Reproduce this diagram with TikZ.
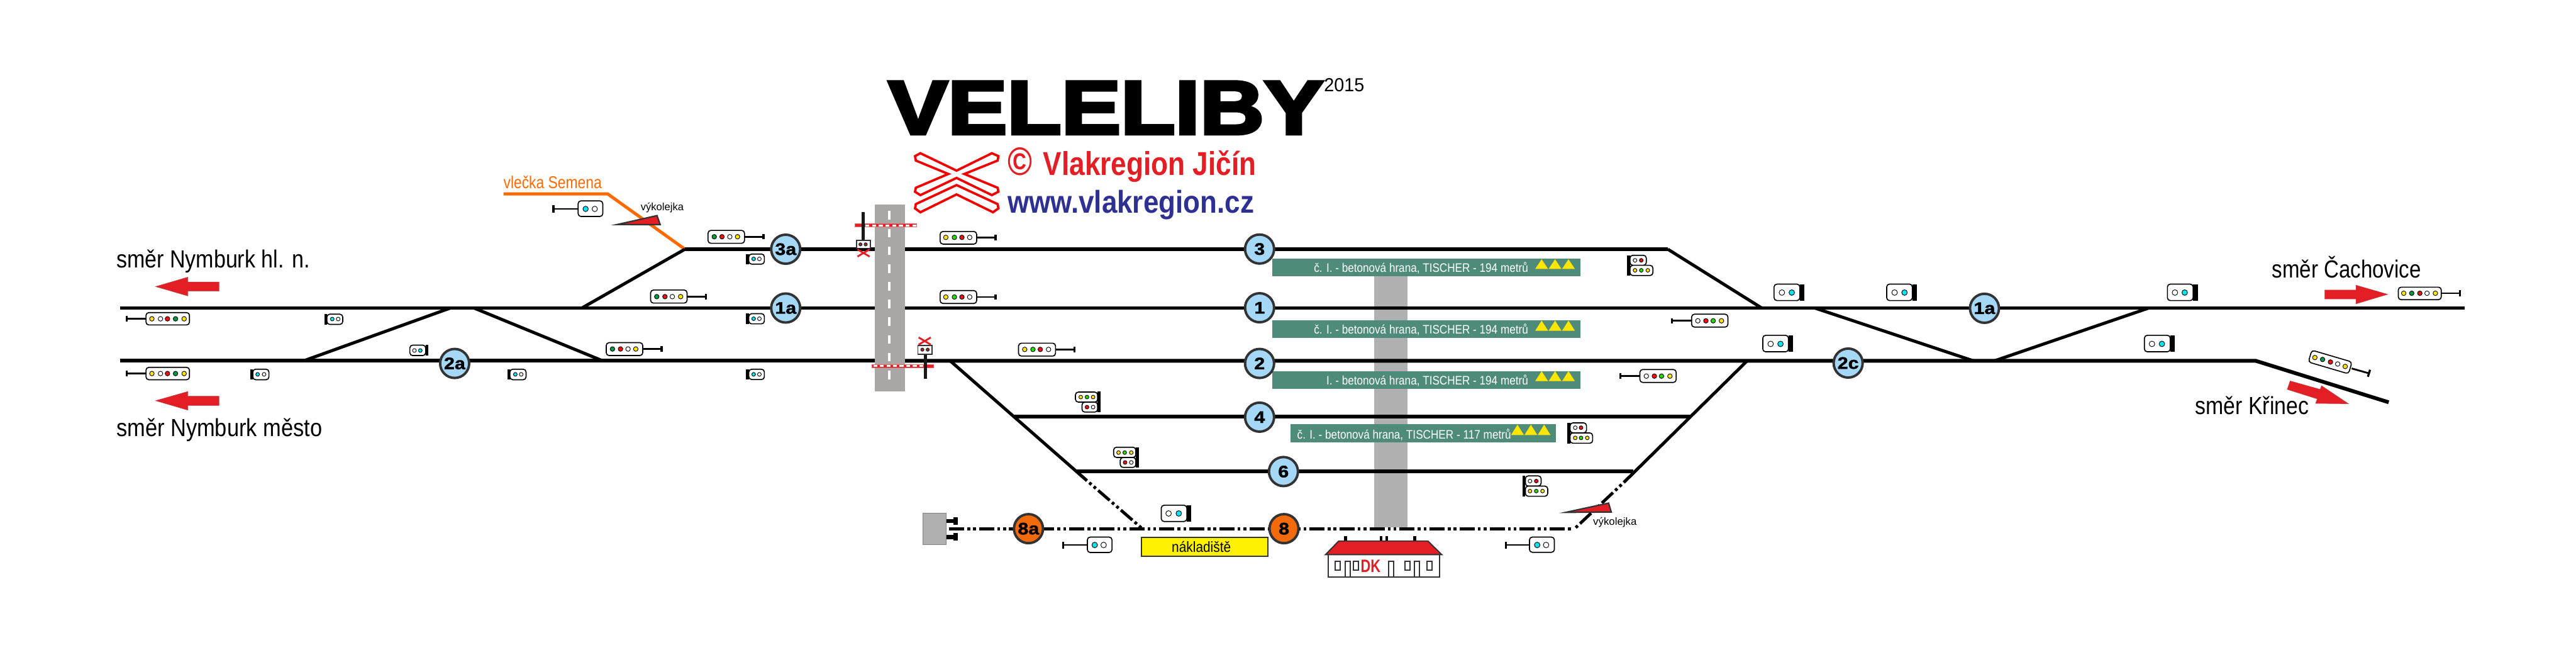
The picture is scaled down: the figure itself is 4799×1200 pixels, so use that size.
\documentclass[tikz,border=0pt]{standalone}
\usepackage{fontspec}
\usepackage{graphicx}
\setmainfont{Liberation Sans}
\newfontfamily\titlef[BoldFeatures={FakeBold=4}]{Liberation Sans}
\newfontfamily\bubf[BoldFeatures={FakeBold=1.5,FakeStretch=1.15}]{Liberation Sans}
\definecolor{Cred}{HTML}{E31E24}
\definecolor{Cblue}{HTML}{A5D8F6}
\definecolor{Cedge}{HTML}{333333}
\definecolor{Corange}{HTML}{F36A0B}
\definecolor{Cline}{HTML}{FF6A00}
\definecolor{Cgreen}{HTML}{4E8B7B}
\definecolor{Ctri}{HTML}{FFE600}
\definecolor{Croad}{HTML}{A9A6A6}
\definecolor{Cbuild}{HTML}{B0B0B0}
\definecolor{Cnavy}{HTML}{2E3192}
\definecolor{Cx}{HTML}{F00000}
\definecolor{Ly}{HTML}{FFE600}
\definecolor{Lr}{HTML}{EE1111}
\definecolor{Lg}{HTML}{009944}
\definecolor{Lh}{HTML}{22DD00}
\definecolor{Lc}{HTML}{00E5F5}
\tikzset{
  trackline/.style={line width=1.99pt,line join=miter},
  diagline/.style={line width=1.65pt},
  dashline/.style={line width=1.6pt,dash pattern=on 8.05pt off 1.62pt on 1.5pt off 1.62pt on 1.5pt off 1.62pt},
  diagdash/.style={line width=1.6pt,dash pattern=on 1.5pt off 1.62pt on 1.5pt off 1.62pt on 8.05pt off 1.62pt,dash phase=14.3pt},
  bubble/.style={circle,draw=Cedge,line width=1.3pt,inner sep=0pt,minimum size=0.54cm,font=\fontsize{8.8pt}{8.8pt}\selectfont\bubf\bfseries},
  bublue/.style={bubble,fill=Cblue},
  buorange/.style={bubble,fill=Corange},
  txt/.style={anchor=base west,inner sep=0pt,outer sep=0pt},
  sbody/.style={draw=black,fill=white,line width=0.55pt,rounded corners=1.5pt},
  mastline/.style={line width=0.95pt,black},
  barline/.style={line width=1.1pt,black},
  lampring/.style={draw=black,line width=0.3pt},
  redarrow/.style={fill=Cred,draw=Cred!60!gray,line width=0.2pt},
  housepen/.style={draw=Cedge,line width=0.65pt},
  crossx/.style={draw=Cred,line width=0.95pt},
  barrier/.style={fill=Cred,draw=Cred!70,line width=0.2pt},
  logoline/.style={draw=Cx,fill=white,line width=1.25pt,line join=miter}
}
\newcommand\fitx[3]{\resizebox{\fpeval{#1/100}cm}{\height}{\fontsize{#2pt}{#2pt}\selectfont #3}}
\newcommand\Sb[4]{\draw[sbody] (#1,#2) rectangle (#3,#4);}
\newcommand\Sk[4]{\fill[black] (#1,#2) rectangle (#3,#4);}
\newcommand\Sl[4]{\filldraw[lampring,fill=#4] (#2,#3) circle[radius=#1];}
\newcommand\Sm[4]{\draw[mastline] (#1,#3) -- (#2,#3);\draw[barline] (#2,\fpeval{#3-#4}) -- (#2,\fpeval{#3+#4});}
\newcommand\Gb[7]{\fill[Cgreen] (#1,#2) rectangle (#3,#4);
  \foreach \tx in {#6}{\fill[Ctri] (\tx,#7) -- ++(24,0) -- ++(-12,\fpeval{#5-#7}) -- cycle;}}
\begin{document}
\begin{tikzpicture}[x=0.01cm,y=-0.01cm]
\useasboundingbox (0,0) rectangle (4799,1200);
\fill[white] (0,0) rectangle (4799,1200);
% building shadow and road
\fill[Cbuild] (2560,505) rectangle (2622,982);
\fill[Croad] (1630,381) rectangle (1686,729);
\foreach \dy in {393,426,459,492,525,558,591,624,657,690}{\fill[white] (1654,\dy) rectangle (1659.5,\dy+16);}
% junction points
\coordinate (t1W) at (224,573.5);
\coordinate (r1W) at (1630,573.5);
\coordinate (r1E) at (1686,573.5);
\coordinate (t1E) at (4592,573.5);
\coordinate (t2W) at (224,671.7);
\coordinate (r2W) at (1630,671.7);
\coordinate (r2E) at (1686,671.7);
\coordinate (t2K) at (4202,671.7);
\coordinate (t2E) at (4450,749);
\coordinate (j3W) at (1276,464);
\coordinate (r3W) at (1630,464);
\coordinate (r3E) at (1686,464);
\coordinate (j3E) at (3107,464);
\coordinate (j3S) at (3282,573.5);
\coordinate (j4W) at (1889.5,776);
\coordinate (j4E) at (3148,776);
\coordinate (j6W) at (2006,878);
\coordinate (j6E) at (3043,878);
\coordinate (jLT) at (1770,671.7);
\coordinate (jLM) at (2025,895);
\coordinate (jLB) at (2128,984.3);
\coordinate (jRT) at (3255,671.7);
\coordinate (jRM) at (3025,898.3);
\coordinate (jRB) at (2932.7,985);
\coordinate (t8W) at (1763,984.3);
\coordinate (t8E) at (2927,984.3);
\coordinate (x1a) at (566,671.7);
\coordinate (x1b) at (839,573.5);
\coordinate (x2a) at (883,573.5);
\coordinate (x2b) at (1122.5,671.7);
\coordinate (x3a) at (1084,573.5);
\coordinate (x4a) at (3381,573.5);
\coordinate (x4b) at (3676,671.7);
\coordinate (x5a) at (4003,573.5);
\coordinate (x5b) at (3716,671.7);
\coordinate (vsA) at (938,361);
\coordinate (vsB) at (1132,361);
% orange siding
\draw[line width=1.65pt,Cline,line join=miter] (vsA) -- (vsB) -- (j3W);
% tracks
\draw[trackline] (t1W) -- (r1W);
\draw[trackline] (r1E) -- (t1E);
\draw[trackline] (t2W) -- (r2W);
\draw[trackline] (r2E) -- (t2K) -- (t2E);
\draw[trackline] (j3W) -- (r3W);
\draw[trackline] (r3E) -- (j3E);
\draw[diagline] (j3E) -- (j3S);
\draw[trackline] (j4W) -- (j4E);
\draw[trackline] (j6W) -- (j6E);
\draw[diagline] (jLT) -- (jLM);
\draw[diagdash] (jLM) -- (jLB);
\draw[diagline] (jRT) -- (jRM);
\draw[diagdash] (jRM) -- (jRB);
\draw[dashline,dash phase=14.5pt] (t8W) -- (t8E);
\draw[diagline] (x1a) -- (x1b);
\draw[diagline] (x2a) -- (x2b);
\draw[diagline] (x3a) -- (j3W);
\draw[diagline] (x4a) -- (x4b);
\draw[diagline] (x5a) -- (x5b);
% platforms
\Gb{2370}{482}{2944}{514.3}{482.7}{2860,2885,2910}{500.7}
\Gb{2370}{596.7}{2944}{629.7}{597}{2860,2885,2910}{615.7}
\Gb{2370}{690.7}{2944}{723.7}{691}{2860,2885,2910}{709.7}
\Gb{2404.6}{790}{2898}{824}{790.7}{2815,2840,2864.6}{810}
\node[txt,text=white] (pl3) at (2448,507) {\fitx{398.6}{6.5}{č. I. - betonová hrana, TISCHER - 194 metrů}};
\node[txt,text=white] (pl1) at (2448,621.7) {\fitx{398.6}{6.5}{č. I. - betonová hrana, TISCHER - 194 metrů}};
\node[txt,text=white] (pl2) at (2471,716) {\fitx{375.6}{6.5}{I. - betonová hrana, TISCHER - 194 metrů}};
\node[txt,text=white] (pl4) at (2416.7,816.7) {\fitx{398}{6.5}{č. I. - betonová hrana, TISCHER - 117 metrů}};
% track number bubbles
\node[bublue] (b2a) at (847,676.7) {2a};
\node[bublue] (b3a) at (1463.7,464) {3a};
\node[bublue] (b1a) at (1463.7,573.5) {1a};
\node[bublue] (b3) at (2346.5,463.7) {3};
\node[bublue] (b1) at (2346.5,573) {1};
\node[bublue] (b2) at (2346.5,676.7) {2};
\node[bublue] (b4) at (2346.5,776.7) {4};
\node[bublue] (b6) at (2391,878) {6};
\node[bublue] (b1c) at (3697,574) {1a};
\node[bublue] (b2c) at (3443,676) {2c};
\node[buorange] (b8a) at (1916,984.3) {8a};
\node[buorange] (b8) at (2392,984.3) {8};
% direction labels and arrows
\node[txt] (dNh) at (217,499) {\fitx{360}{13.1}{směr Nymburk hl. n.}};
\node[txt] (dNm) at (217,813) {\fitx{383}{13.1}{směr Nymburk město}};
\node[txt] (dCa) at (4233,516.7) {\fitx{277}{13.1}{směr Čachovice}};
\node[txt] (dKr) at (4090,771.7) {\fitx{211}{13.1}{směr Křinec}};
\draw[redarrow] (290,533.6) -- (350,516) -- (350,525) -- (408,525) -- (408,542) -- (350,542) -- (350,551) -- cycle;
\draw[redarrow] (290,746) -- (350,729) -- (350,737.6) -- (408,737.6) -- (408,755) -- (350,755) -- (350,763.6) -- cycle;
\draw[redarrow] (4448,548) -- (4389,531) -- (4389,540) -- (4331,540) -- (4331,556.7) -- (4389,556.7) -- (4389,565.7) -- cycle;
\draw[redarrow] (4266.5,709.3) -- (4322.3,725) -- (4325,718.3) -- (4375,751.7) -- (4313.8,751) -- (4317,742.7) -- (4261,725) -- cycle;
% title and logo
\node[txt] (title) at (1655,249.5) {\fitx{810}{40.3}{\titlef\bfseries VELELIBY}};
\node[txt] (year) at (2466.7,170) {\fitx{75}{10}{2015}};
\node[txt,text=Cred] (copy) at (1877,326) {\fitx{463}{17.5}{\bfseries{\fontsize{21pt}{21pt}\selectfont ©}\kern 7pt Vlakregion Jičín}};
\node[txt,text=Cnavy] (web) at (1877,397) {\fitx{459}{16.7}{\bfseries www.vlakregion.cz}};
\draw[logoline] (1782,344.6) -- (1858.5,380) -- (1860,388) -- (1850,395.2) -- (1782,362) -- (1714.6,395.2) -- (1704.7,388) -- (1706.2,380) -- cycle;
\draw[logoline] (1714.6,285.3) -- (1782,317.7) -- (1847.8,285.3) -- (1860,290.7) -- (1858.5,299) -- (1796.5,323.9) -- (1858.5,349.6) -- (1860,357) -- (1847.8,363.3) -- (1782,331.3) -- (1714.6,363.3) -- (1704.7,357) -- (1706.2,349.6) -- (1766.7,323.9) -- (1706.2,299) -- (1704.7,290.7) -- cycle;
% siding labels and derailers
\node[txt,text=Cline] (vs) at (938,351) {\fitx{183}{9.1}{vlečka Semena}};
\node[txt] (vk1) at (1193.6,391.5) {\fitx{80}{5.55}{výkolejka}};
\node[txt] (vk2) at (2968,977.3) {\fitx{81}{5.55}{výkolejka}};
\filldraw[fill=Cred,draw=Cedge,line width=0.75pt,line join=miter] (1150,418) -- (1224,401.4) -- (1230,418.4) -- cycle;
\filldraw[fill=Cred,draw=Cedge,line width=0.75pt,line join=miter] (2916.7,954) -- (2996.7,936.7) -- (3001.7,953.3) -- cycle;
% level crossings
\draw[barrier] (1592.7,416.7) rectangle (1707.3,422.3);
\foreach \i in {0,...,7}{\fill[white] (1612+12.5*\i,417.8) rectangle (1619.5+12.5*\i,421.2);}
\fill[black!90] (1605.3,395) rectangle (1611.3,447.3);
\filldraw[fill=white,draw=Cedge,line width=0.6pt] (1596,447.3) rectangle (1621.7,462.3);
\foreach \cx in {1603,1612.7}{\fill[Cedge] (\cx,455) circle[radius=3.7];\fill[Lr] (\cx,455) circle[radius=1.6];}
\draw[crossx] (1597.4,464.3) -- (1620,477.7);\draw[crossx] (1620,464.3) -- (1597.4,477.7);
\draw[barrier] (1624,678.7) rectangle (1739.3,684);
\foreach \i in {0,...,7}{\fill[white] (1627+12.2*\i,679.8) rectangle (1634.5+12.2*\i,682.9);}
\fill[black!90] (1720.7,659) rectangle (1726.7,705);
\filldraw[fill=white,draw=Cedge,line width=0.6pt] (1710,643.3) rectangle (1736,659.3);
\foreach \cx in {1718.3,1728.3}{\fill[Cedge] (\cx,651) circle[radius=3.7];\fill[Lr] (\cx,651) circle[radius=1.6];}
\draw[crossx] (1711.4,628.3) -- (1734,641.7);\draw[crossx] (1734,628.3) -- (1711.4,641.7);
% entry signals
\Sm{272}{236}{593.6}{5.5}\Sb{272}{582}{353}{605}
\Sl{4.3}{283}{593.6}{Ly}\Sl{4.3}{299}{593.6}{white}\Sl{4.3}{312}{593.6}{Lr}\Sl{4.3}{327}{593.6}{Lg}\Sl{4.3}{343}{593.6}{Ly}
\Sm{272}{236}{695.5}{5.5}\Sb{272}{684}{353}{707}
\Sl{4.3}{283}{695.5}{Ly}\Sl{4.3}{299}{695.5}{white}\Sl{4.3}{312}{695.5}{Lr}\Sl{4.3}{327}{695.5}{Lg}\Sl{4.3}{343}{695.5}{Ly}
\Sm{4548}{4582.6}{546}{5.8}\Sb{4467.9}{534.7}{4548}{558}
\Sl{4.3}{4478}{546}{Ly}\Sl{4.3}{4492.9}{546}{Lg}\Sl{4.3}{4508}{546}{Lr}\Sl{4.3}{4521.4}{546}{white}\Sl{4.3}{4537}{546}{Ly}
\draw[mastline] (4381,686) -- (4413,695);
\draw[barline] (4415.3,688.5) -- (4411.3,701.5);
\node[sbody,rotate=-16.4,minimum width=0.78cm,minimum height=0.23cm,inner sep=0pt,outer sep=0pt] (sigKr) at (4341,674) {};
\Sl{4.3}{4312.5}{665.7}{Ly}\Sl{4.3}{4326.8}{669.3}{Lg}\Sl{4.3}{4341.5}{674}{Lr}\Sl{4.3}{4355}{677.7}{white}\Sl{4.3}{4369}{682.3}{Ly}
% four-lamp signals
\Sm{1387}{1422.4}{440.8}{5}\Sb{1319}{429}{1387}{453}
\Sl{4.3}{1330.6}{440.8}{Lg}\Sl{4.3}{1345}{440.8}{Lr}\Sl{4.3}{1359.6}{440.8}{white}\Sl{4.3}{1374}{440.8}{Ly}
\Sm{1280}{1315}{552.3}{5}\Sb{1212}{540}{1280}{564.3}
\Sl{4.3}{1223.5}{552.3}{Lg}\Sl{4.3}{1238.8}{552.3}{Lr}\Sl{4.3}{1252.5}{552.3}{white}\Sl{4.3}{1268}{552.3}{Ly}
\Sm{1197.4}{1232.6}{649.8}{5}\Sb{1129.4}{638}{1197.4}{662}
\Sl{4.3}{1141}{649.8}{Lg}\Sl{4.3}{1156}{649.8}{Lr}\Sl{4.3}{1170}{649.8}{white}\Sl{4.3}{1184.4}{649.8}{Ly}
\Sm{1819.5}{1854.7}{442}{5}\Sb{1751.4}{431}{1819.5}{454.5}
\Sl{4.3}{1762}{442}{Ly}\Sl{4.3}{1778}{442}{Lh}\Sl{4.3}{1792}{442}{Lr}\Sl{4.3}{1806.5}{442}{white}
\Sm{1819.5}{1854.7}{553}{5}\Sb{1751.4}{541}{1819.5}{565}
\Sl{4.3}{1762}{553}{Ly}\Sl{4.3}{1778}{553}{Lh}\Sl{4.3}{1792}{553}{Lr}\Sl{4.3}{1806.5}{553}{white}
\Sm{1966.4}{2001.6}{650.6}{5}\Sb{1897.5}{639}{1966.4}{663}
\Sl{4.3}{1909}{650.6}{Ly}\Sl{4.3}{1924.3}{650.6}{Lh}\Sl{4.3}{1938}{650.6}{Lr}\Sl{4.3}{1953.4}{650.6}{white}
\Sm{3151.4}{3115}{597.3}{5}\Sb{3151.4}{585}{3219}{609}
\Sl{4.3}{3163}{597.3}{white}\Sl{4.3}{3178}{597.3}{Lr}\Sl{4.3}{3191.6}{597.3}{Lh}\Sl{4.3}{3207}{597.3}{Ly}
\Sm{3055}{3018.8}{700.3}{5}\Sb{3055}{688}{3122.7}{712}
\Sl{4.3}{3067}{700.3}{white}\Sl{4.3}{3082}{700.3}{Lr}\Sl{4.3}{3095.3}{700.3}{Lh}\Sl{4.3}{3111}{700.3}{Ly}
% shunting signals, west
\Sm{1078}{1031}{389}{6.5}\Sb{1077}{374}{1123}{403}
\Sl{5}{1091}{389}{Lc}\Sl{5}{1108}{389}{white}
\Sk{604}{585}{609}{604}\Sb{609}{585}{638.5}{604}\Sl{3.5}{619}{594}{Lc}\Sl{3.5}{630}{594}{white}
\Sk{793}{642.6}{798}{662}\Sb{763.5}{642.6}{793}{662}\Sl{3.5}{772}{652.6}{white}\Sl{3.5}{783}{652.6}{Lc}
\Sk{466}{687.4}{471}{707}\Sb{471}{687.4}{501}{707}\Sl{3.5}{480}{697}{Lc}\Sl{3.5}{492}{697}{white}
\Sk{945}{687.4}{950}{707}\Sb{950}{687.4}{980}{707}\Sl{3.5}{960}{697}{Lc}\Sl{3.5}{971}{697}{white}
\Sk{1389.5}{473}{1395}{491.8}\Sb{1395}{473}{1424}{491.8}\Sl{3.5}{1404}{482}{Lc}\Sl{3.5}{1414.7}{482}{white}
\Sk{1389.5}{584}{1395}{603}\Sb{1395}{584}{1424}{603}\Sl{3.5}{1404}{593.4}{Lc}\Sl{3.5}{1414.7}{593.4}{white}
\Sk{1389.5}{687.5}{1395}{706.6}\Sb{1395}{687.5}{1424}{706.6}\Sl{3.5}{1404}{697}{Lc}\Sl{3.5}{1414.7}{697}{white}
% double signals
\Sk{2044.8}{729}{2050}{767}\Sb{2015.7}{748.7}{2044.8}{767.3}\Sb{2003.5}{730}{2044.8}{748.7}
\Sl{3.5}{2013.4}{739.3}{Ly}\Sl{3.5}{2025}{739.3}{Lh}\Sl{3.5}{2036.4}{739.3}{Ly}\Sl{3.5}{2025}{758}{Lr}\Sl{3.5}{2036.4}{758}{white}
\Sk{2116}{832.7}{2121.3}{870.3}\Sb{2087}{851.7}{2116}{870.3}\Sb{2074.6}{832.7}{2116}{851.7}
\Sl{3.5}{2083.8}{842.7}{Ly}\Sl{3.5}{2095.3}{842.7}{Lh}\Sl{3.5}{2107.5}{842.7}{Ly}\Sl{3.5}{2096}{861}{Lr}\Sl{3.5}{2107.5}{861}{white}
\Sk{3031.5}{475.3}{3036.6}{513.3}\Sb{3036.6}{475.3}{3067}{494}\Sb{3036.6}{494}{3079.3}{513}
\Sl{3.5}{3046}{484.7}{white}\Sl{3.5}{3057.6}{484.7}{Lr}\Sl{3.5}{3046}{503.3}{Ly}\Sl{3.5}{3057.6}{503.3}{Lh}\Sl{3.5}{3069.8}{503.3}{Ly}
\Sk{2920}{787.3}{2925}{825.7}\Sb{2925}{787.3}{2955.6}{806}\Sb{2925}{806}{2967}{825.3}
\Sl{3.5}{2934.6}{796.3}{white}\Sl{3.5}{2945.4}{796.3}{Lr}\Sl{3.5}{2934.6}{815.3}{Ly}\Sl{3.5}{2945.4}{815.3}{Lh}\Sl{3.5}{2957}{815.3}{Ly}
\Sk{2836.7}{886}{2841.7}{924}\Sb{2841.7}{886}{2871}{905}\Sb{2841.7}{905}{2883.3}{924}
\Sl{3.5}{2850.3}{895.7}{white}\Sl{3.5}{2862}{895.7}{Lr}\Sl{3.5}{2850.3}{914.3}{Ly}\Sl{3.5}{2862}{914.3}{Lh}\Sl{3.5}{2873.7}{914.3}{Ly}
% shunting signals, south and east
\Sm{2025.7}{1980.5}{1014.7}{6.5}\Sb{2025.7}{1000}{2071.6}{1028.7}
\Sl{5.2}{2039.4}{1014.7}{Lc}\Sl{5.2}{2056}{1014.7}{white}
\Sk{2211}{940.7}{2219}{971}\Sb{2163.4}{940.7}{2211}{971}\Sl{5.2}{2177}{956}{white}\Sl{5.2}{2196}{956}{Lc}
\Sm{2849.3}{2805.5}{1014.7}{6.5}\Sb{2849.3}{1000}{2895.7}{1028.3}
\Sl{5.2}{2863.7}{1014.7}{Lc}\Sl{5.2}{2880.3}{1014.7}{white}
\Sk{3353}{529}{3361.7}{559.6}\Sb{3305}{529}{3353}{559.6}\Sl{5.2}{3319.6}{544.7}{white}\Sl{5.2}{3338}{544.7}{Lc}
\Sk{3562.6}{529}{3571}{559.6}\Sb{3514.8}{529}{3562.6}{559.6}\Sl{5.2}{3529.5}{544.7}{white}\Sl{5.2}{3548}{544.7}{Lc}
\Sk{4085.6}{529}{4094.5}{559.6}\Sb{4037.8}{529}{4085.6}{559.6}\Sl{5.2}{4051.8}{544.7}{white}\Sl{5.2}{4070}{544.7}{Lc}
\Sk{3331.8}{624.3}{3340.7}{655}\Sb{3284}{624.3}{3331.8}{655}\Sl{5.2}{3298.6}{640.3}{white}\Sl{5.2}{3317}{640.3}{Lc}
\Sk{4043}{624.3}{4051}{655}\Sb{3995}{624.3}{4043}{655}\Sl{5.2}{4009}{640.3}{white}\Sl{5.2}{4027.5}{640.3}{Lc}
% buffer stop
\filldraw[fill=Cbuild,draw=gray,line width=0.2pt] (1719,955) rectangle (1763,1014);
\fill[black] (1763,966.7) rectangle (1784,974);
\fill[black] (1776,963) rectangle (1784,977);
\fill[black] (1763,996) rectangle (1784,1003.7);
\fill[black] (1776,992.7) rectangle (1784,1007);
% loading area
\node[draw=Cedge,fill=yellow,line width=0.7pt,minimum width=2.35cm,minimum height=0.345cm,inner sep=0pt] (nak) at (2244,1018) {};
\node[txt] (nakt) at (2183,1027.7) {\fitx{110}{7.8}{nákladiště}};
% station building
\foreach \cx in {2504,2570,2580.7,2632.7}{\fill[black] (\cx,998.7) rectangle (\cx+5.3,1007);}
\filldraw[housepen,fill=white] (2474,1032.7) rectangle (2681.7,1074);
\filldraw[housepen,fill=Cred,line join=miter] (2469.3,1032.7) -- (2494,1007.3) -- (2660,1007.3) -- (2686,1032.7) -- cycle;
\foreach \wx in {2487.7,2521.7,2617.3,2658.7}{\draw[housepen] (\wx,1045) rectangle (\wx+9.4,1061.7);}
\foreach \dx in {2506,2586.7,2635}{\draw[housepen] (\dx,1074) -- (\dx,1045) -- (\dx+9.8,1045) -- (\dx+9.8,1074);}
\node[txt,text=Cred] (dk) at (2535,1065.7) {\fitx{37}{9.5}{\bfseries DK}};
\end{tikzpicture}
\end{document}
